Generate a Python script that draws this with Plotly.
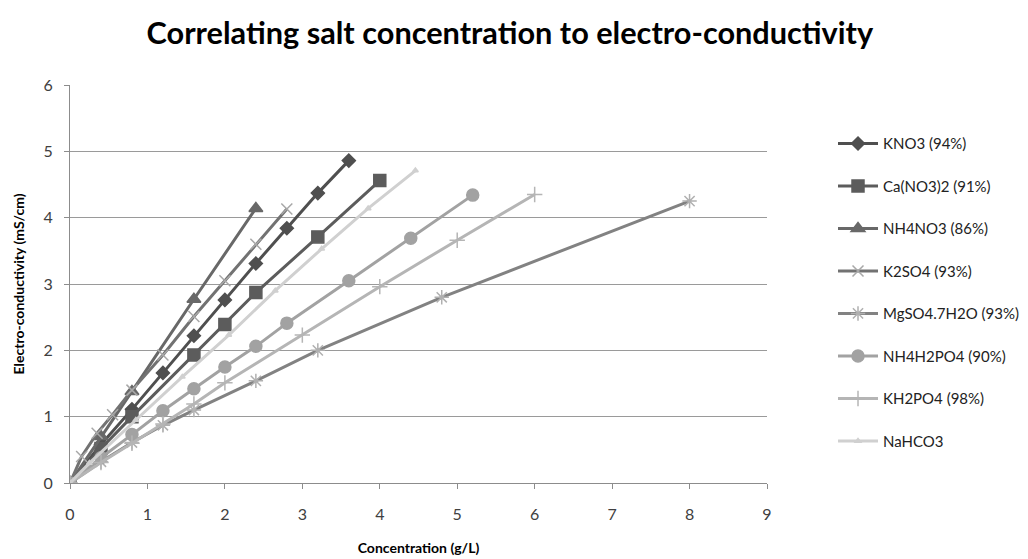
import plotly.graph_objects as go

# ---- data ----
kno3_x = [0, 0.4, 0.8, 1.2, 1.6, 2.0, 2.4, 2.8, 3.2, 3.6]
kno3_y = [0, 0.58, 1.11, 1.66, 2.22, 2.76, 3.31, 3.84, 4.37, 4.86]

cano3_x = [0, 0.4, 0.8, 1.6, 2.0, 2.4, 3.2, 4.0]
cano3_y = [0, 0.52, 1.0, 1.93, 2.39, 2.87, 3.71, 4.56]

nh4no3_x = [0, 0.4, 0.8, 1.6, 2.4]
nh4no3_y = [0, 0.7, 1.38, 2.77, 4.14]

k2so4_x = [0, 0.15, 0.35, 0.55, 0.8, 1.2, 1.6, 2.0, 2.4, 2.8]
k2so4_y = [0, 0.4, 0.75, 1.03, 1.4, 1.93, 2.51, 3.05, 3.6, 4.13]

mgso4_x = [0, 0.4, 0.8, 1.2, 1.6, 2.4, 3.2, 4.8, 8.0]
mgso4_y = [0, 0.32, 0.61, 0.87, 1.1, 1.54, 2.0, 2.8, 4.25]

nh4h2po4_x = [0, 0.4, 0.8, 1.2, 1.6, 2.0, 2.4, 2.8, 3.6, 4.4, 5.2]
nh4h2po4_y = [0, 0.38, 0.73, 1.09, 1.42, 1.75, 2.06, 2.41, 3.05, 3.69, 4.34]

kh2po4_x = [0, 0.4, 0.8, 1.2, 1.6, 2.0, 3.0, 4.0, 5.0, 6.0]
kh2po4_y = [0, 0.31, 0.6, 0.89, 1.19, 1.51, 2.23, 2.96, 3.66, 4.35]

nahco3_x = [0, 0.25, 0.85, 1.45, 2.05, 2.65, 3.25, 3.85, 4.46]
nahco3_y = [0, 0.3, 0.95, 1.6, 2.23, 2.9, 3.53, 4.14, 4.71]

x_ticks = [0, 1, 2, 3, 4, 5, 6, 7, 8, 9]
y_ticks = [0, 1, 2, 3, 4, 5, 6]

series = [
    ("KNO3 (94%)", kno3_x, kno3_y, "#4f4f4f", "#4f4f4f", "diamond", 10),
    ("Ca(NO3)2 (91%)", cano3_x, cano3_y, "#5c5c5c", "#5c5c5c", "square", 12),
    ("NH4NO3 (86%)", nh4no3_x, nh4no3_y, "#686868", "#686868", "triangle-up", 12),
    ("K2SO4 (93%)", k2so4_x, k2so4_y, "#727272", "#a8a8a8", "x-thin-open", 11),
    ("MgSO4.7H2O (93%)", mgso4_x, mgso4_y, "#828282", "#b0b0b0", "asterisk-open", 12),
    ("NH4H2PO4 (90%)", nh4h2po4_x, nh4h2po4_y, "#a2a2a2", "#a2a2a2", "circle", 12),
    ("KH2PO4 (98%)", kh2po4_x, kh2po4_y, "#b5b5b5", "#b5b5b5", "cross-thin-open", 11),
    ("NaHCO3", nahco3_x, nahco3_y, "#d0d0d0", "#d0d0d0", "triangle-up", 5),
]

FONT = "Lato, Open Sans, sans-serif"

fig = go.Figure()
for name, xs, ys, lc, mc, sym, sz in series:
    fig.add_trace(go.Scatter(
        x=xs, y=ys, name=name, mode="lines+markers",
        line=dict(color=lc, width=3),
        marker=dict(symbol=sym, size=sz, color=mc,
                    line=dict(color=mc, width=1.5)),
        legendgroup=name,
    ))

fig.update_layout(
    width=1028, height=559,
    margin=dict(l=70, r=261, t=85, b=76, autoexpand=False),
    paper_bgcolor="white", plot_bgcolor="white",
    font=dict(family=FONT, color="#404040", size=15),
    title=dict(text="<b>Correlating salt concentration to electro-conductivity</b>",
               x=0.496, xanchor="center", y=0.94, yanchor="middle",
               font=dict(size=30.7, color="#000000", family=FONT)),
    showlegend=True,
    legend=dict(x=1.0947, xanchor="left", y=0.894, yanchor="top",
                font=dict(size=15, color="#222222", family=FONT),
                tracegroupgap=20, bgcolor="rgba(0,0,0,0)", itemwidth=40),
    xaxis=dict(range=[0, 9], tickvals=x_ticks, showgrid=False, zeroline=False,
               showline=True, linecolor="#8c8c8c", linewidth=1, automargin=False,
               ticks="outside", ticklen=5, tickcolor="#8c8c8c",
               ticklabelstandoff=12,
               tickfont=dict(size=16, color="#404040"),
               title=dict(text="<b>Concentration (g/L)</b>", font=dict(size=14, color="#000000"),
                          standoff=20)),
    yaxis=dict(range=[0, 6], tickvals=y_ticks, showgrid=True, gridcolor="#9a9a9a", gridwidth=1,
               zeroline=False, showline=True, linecolor="#8c8c8c", linewidth=1, automargin=False,
               ticks="outside", ticklen=5, tickcolor="#8c8c8c",
               ticklabelstandoff=8,
               tickfont=dict(size=16, color="#404040"),
               title=dict(text="<b>Electro-conductivity (mS/cm)</b>", font=dict(size=14, color="#000000"),
                          standoff=15)),
)

fig.write_html("out.html")
